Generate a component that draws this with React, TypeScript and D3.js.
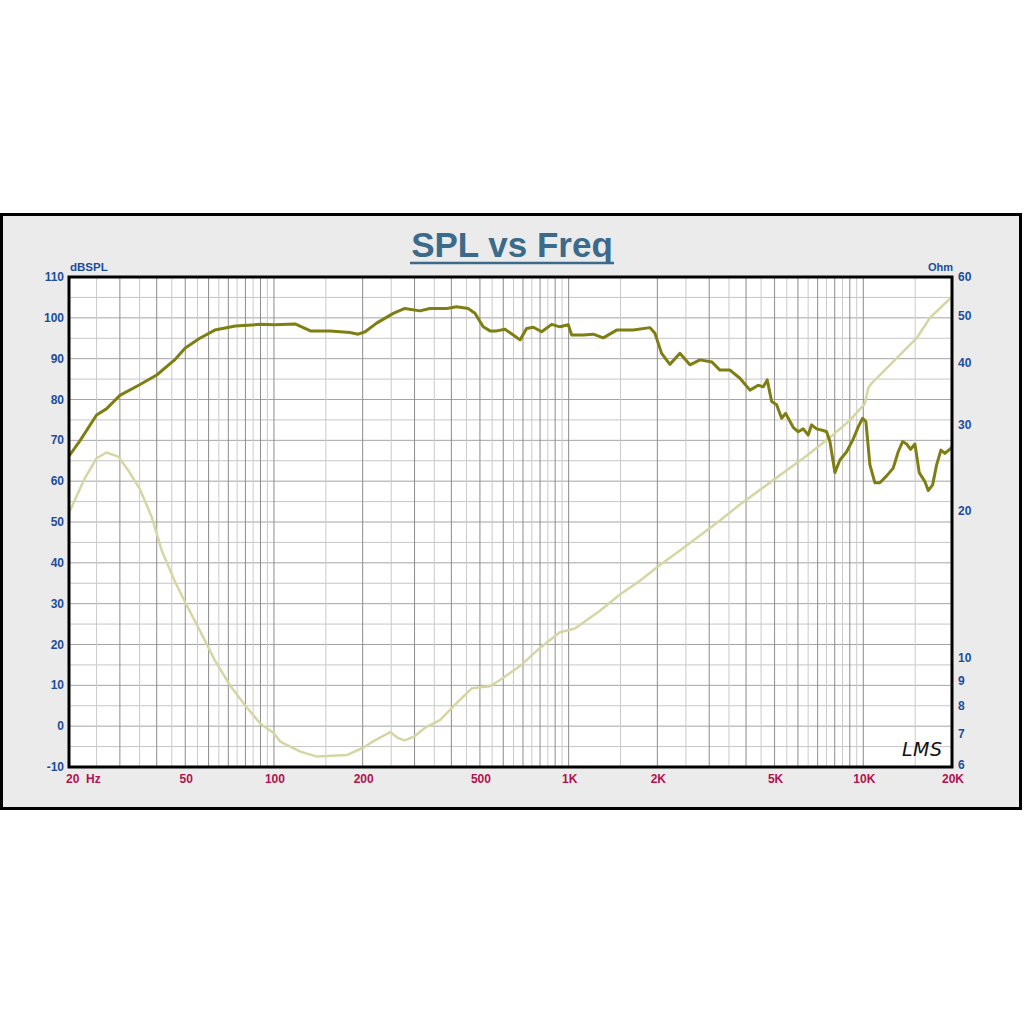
import * as d3 from "d3";

// SPL response, dB (frequency in Hz)
const splFreq = [20, 22, 25, 27, 30, 35, 40, 46, 50, 56, 63, 74, 90, 100, 118, 133, 155, 181, 193, 204, 223, 254, 278, 313, 338, 386, 417, 456, 481, 513, 541, 570, 608, 649, 684, 720, 759, 810, 876, 934, 997, 1024, 1121, 1212, 1311, 1455, 1657, 1888, 1963, 2068, 2206, 2386, 2580, 2790, 3064, 3262, 3528, 3814, 4124, 4400, 4576, 4720, 4886, 5080, 5283, 5450, 5782, 6014, 6254, 6502, 6676, 6942, 7310, 7508, 7704, 8010, 8330, 8778, 9242, 9612, 9946, 10206, 10530, 10950, 11384, 11998, 12632, 13136, 13596, 14028, 14474, 14968, 15480, 16182, 16606, 17190, 17734, 18340, 18920, 19410, 20000];
const splDb = [65.8, 70, 76.2, 77.7, 81, 83.6, 86, 89.7, 92.6, 95, 97, 98, 98.4, 98.3, 98.5, 96.8, 96.8, 96.4, 96.0, 96.6, 98.7, 101.1, 102.3, 101.7, 102.3, 102.3, 102.7, 102.3, 101.1, 97.8, 96.8, 96.8, 97.2, 95.8, 94.6, 97.4, 97.7, 96.6, 98.4, 97.8, 98.3, 95.8, 95.8, 96, 95.1, 97, 97, 97.6, 96.2, 91.3, 88.6, 91.3, 88.5, 89.7, 89.2, 87.2, 87.2, 85.2, 82.3, 83.5, 83.1, 84.8, 79.5, 78.7, 75.4, 76.6, 73.2, 72.1, 72.8, 71.3, 73.8, 72.8, 72.4, 72.1, 69.7, 62.1, 65.2, 67.2, 70.3, 73.3, 75.4, 74.6, 64, 59.6, 59.6, 61.3, 63.2, 67.2, 69.7, 69.1, 67.8, 69.1, 62.1, 59.9, 57.7, 59.1, 64, 67.6, 66.8, 67.5, 68.3];

// Impedance, Ohm
const impFreq = [20, 22.8, 25, 27, 29.6, 32, 35, 38.5, 41.6, 46, 50, 56, 63, 71, 80, 90, 100, 105, 123, 140, 177, 200, 220, 248, 264, 278, 301, 325, 366, 411, 445, 470, 541, 585, 684, 799, 934, 1051, 1277, 1493, 1746, 2041, 2386, 2790, 3262, 3814, 4948, 6422, 7906, 9004, 10126, 10390, 10670, 13840, 15172, 16828, 20000];
const impOhm = [19.6, 23.3, 25.6, 26.3, 25.8, 24.2, 22.2, 19.4, 16.6, 14.4, 13.0, 11.4, 9.9, 8.8, 8.0, 7.35, 7.03, 6.76, 6.45, 6.30, 6.35, 6.56, 6.8, 7.07, 6.87, 6.8, 6.94, 7.21, 7.48, 8.03, 8.42, 8.69, 8.77, 9.03, 9.64, 10.5, 11.3, 11.5, 12.5, 13.5, 14.4, 15.5, 16.6, 17.8, 19.1, 20.6, 23.1, 25.9, 28.6, 30.6, 33.1, 35.6, 36.4, 42.6, 45, 49.5, 54.7];

const dbTicks = [-10, 0, 10, 20, 30, 40, 50, 60, 70, 80, 90, 100, 110];
const ohmTicks = [6, 7, 8, 9, 10, 20, 30, 40, 50, 60];
const freqTicks = [50, 100, 200, 500, 1000, 2000, 5000, 10000, 20000];
const freqLabels = ["50", "100", "200", "500", "1K", "2K", "5K", "10K", "20K"];

const font = "'Liberation Sans', Arial, sans-serif";
const blue = "#1c4d9c";
const red = "#b2124e";

export default function App() {
  const left = 68, right = 952, top = 277, bottom = 767;
  const x = d3.scaleLog([20, 20000], [left, right]);
  const y = d3.scaleLinear([-10, 110], [bottom, top]);
  const yOhm = d3.scaleLog([6, 60], [bottom, top]);

  // log grid: darker at k*decade, lighter at (k+0.5)*decade
  const majorF: number[] = [];
  const minorF: number[] = [];
  [10, 100, 1000, 10000].forEach((dec) => {
    for (let k = 1; k <= 9; k++) {
      const f = dec * k;
      if (f > 20 && f < 20000) majorF.push(f);
      const m = dec * (k + 0.5);
      if (m > 20 && m < 20000) minorF.push(m);
    }
  });
  const hLines = d3.range(-5, 110, 5);

  const splLine = d3.line<number>((_, i) => x(splFreq[i]), (d) => y(d));
  const impLine = d3.line<number>((_, i) => x(impFreq[i]), (d) => yOhm(d));

  return (
    <svg width={1024} height={1024} style={{ position: "absolute", left: 0, top: 0 }}>
      <rect x={1.5} y={214.5} width={1019} height={594} fill="#ebebeb" stroke="#000" strokeWidth={3} />
      <text x={512} y={257} textAnchor="middle" fontFamily={font} fontWeight="bold" fontSize={35} fill="#3b6a8b">SPL vs Freq</text>
      <line x1={410} x2={614} y1={263} y2={263} stroke="#3b6a8b" strokeWidth={2.5} />

      <defs>
        <clipPath id="plot">
          <rect x={left} y={top} width={right - left} height={bottom - top} />
        </clipPath>
      </defs>
      <rect x={left} y={top} width={right - left} height={bottom - top} fill="#fff" />

      {hLines.map((v) => (
        <line key={"h" + v} x1={left} x2={right} y1={y(v)} y2={y(v)} stroke={v % 10 === 0 ? "#a4a4a4" : "#c6c6c6"} strokeWidth={1} />
      ))}
      {minorF.map((f) => (
        <line key={"m" + f} x1={x(f)} x2={x(f)} y1={top} y2={bottom} stroke="#cacaca" strokeWidth={1} />
      ))}
      {majorF.map((f) => (
        <line key={"M" + f} x1={x(f)} x2={x(f)} y1={top} y2={bottom} stroke="#8c8c8c" strokeWidth={1} />
      ))}

      <g clipPath="url(#plot)">
        <path d={impLine(impOhm) ?? ""} fill="none" stroke="#d6d6a4" strokeWidth={2.5} strokeLinejoin="round" />
        <path d={splLine(splDb) ?? ""} fill="none" stroke="#7e7e12" strokeWidth={3} strokeLinejoin="round" />
      </g>

      <rect x={left + 1} y={top} width={right - left - 1} height={bottom - top} fill="none" stroke="#000" strokeWidth={3} />

      <text x={70} y={271} fontFamily={font} fontWeight="bold" fontSize={11.5} fill={blue}>dBSPL</text>
      <text x={953} y={271} textAnchor="end" fontFamily={font} fontWeight="bold" fontSize={11} fill={blue}>Ohm</text>

      {dbTicks.map((v) => (
        <text key={"l" + v} x={64} y={y(v) + 4} textAnchor="end" fontFamily={font} fontWeight="bold" fontSize={12} fill={blue}>{v}</text>
      ))}
      {ohmTicks.map((v) => (
        <text key={"r" + v} x={958} y={yOhm(v) + (v === 6 ? 1.5 : 4)} fontFamily={font} fontWeight="bold" fontSize={12} fill={blue}>{v}</text>
      ))}

      <text x={66} y={783} fontFamily={font} fontWeight="bold" fontSize={12} fill={red}>20</text>
      <text x={86} y={783} fontFamily={font} fontWeight="bold" fontSize={12} fill={red}>Hz</text>
      {freqTicks.map((f, i) => (
        <text key={"f" + f} x={x(f) + 1} y={783} textAnchor="middle" fontFamily={font} fontWeight="bold" fontSize={12} fill={red}>{freqLabels[i]}</text>
      ))}

      <text x={902} y={756} fontFamily="'DejaVu Sans', sans-serif" fontStyle="italic" fontSize={19} fill="#111" letterSpacing={0.5}>LMS</text>
    </svg>
  );
}
